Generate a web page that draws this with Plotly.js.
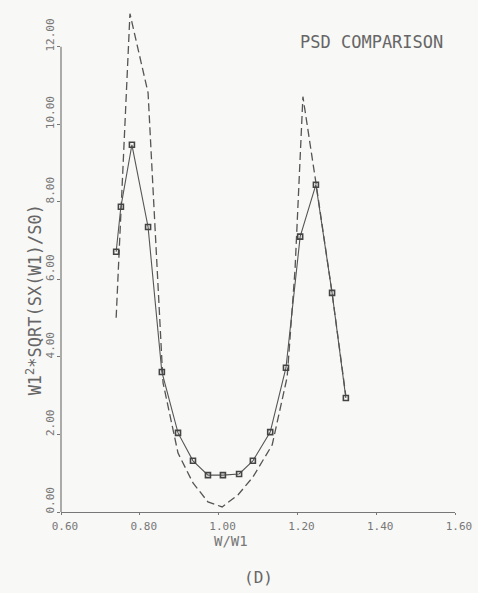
<!DOCTYPE html>
<html>
<head>
<meta charset="utf-8">
<script src="https://cdn.plot.ly/plotly-3.0.1.min.js"></script>
<style>
html,body{margin:0;padding:0;background:#f8f8f6;}
#chart{width:478px;height:593px;}
</style>
</head>
<body>
<div id="chart"></div>
<script>
// Measured (solid line with markers)
var measX = [0.740, 0.752, 0.780, 0.821, 0.856, 0.897, 0.935, 0.973, 1.011, 1.052, 1.087, 1.131, 1.171, 1.207, 1.247, 1.288, 1.323];
var measY = [6.71, 7.87, 9.47, 7.35, 3.61, 2.04, 1.32, 0.95, 0.95, 0.98, 1.32, 2.06, 3.72, 7.10, 8.44, 5.65, 2.94];
// Comparison (dashed line)
var compX = [0.740, 0.775, 0.821, 0.859, 0.897, 0.935, 0.973, 1.009, 1.049, 1.087, 1.136, 1.174, 1.194, 1.214, 1.247, 1.288, 1.323];
var compY = [5.01, 12.85, 10.81, 3.33, 1.52, 0.75, 0.26, 0.13, 0.44, 0.90, 1.73, 3.48, 6.25, 10.71, 8.49, 5.65, 2.99];

var xTickVals = [0.6, 0.8, 1.0, 1.2, 1.4, 1.6];
var xTickText = ["0.60", "0.80", "1.00", "1.20", "1.40", "1.60"];
var yTickVals = [0, 2, 4, 6, 8, 10, 12];
var yTickText = ["0.00", "2.00", "4.00", "6.00", "8.00", "10.00", "12.00"];

var ink = '#555555';
var mono = 'DejaVu Sans Mono, monospace';

var traces = [
  {x: compX, y: compY, mode: 'lines', type: 'scatter',
   line: {color: ink, width: 1.3, dash: '8px,4px'}, hoverinfo: 'skip'},
  {x: measX, y: measY, mode: 'lines+markers', type: 'scatter',
   line: {color: ink, width: 1.1},
   marker: {symbol: 'square-open', size: 5, color: '#444', line: {width: 1.6, color: '#444'}},
   hoverinfo: 'skip'}
];

var layout = {
  width: 478, height: 593,
  margin: {l: 61, r: 23, t: 4, b: 81},
  paper_bgcolor: '#f8f8f6', plot_bgcolor: '#f8f8f6',
  showlegend: false,
  font: {family: mono, color: '#666'},
  xaxis: {
    range: [0.6, 1.6], tickvals: xTickVals, ticktext: xTickText,
    showgrid: false, zeroline: false, showline: true, linecolor: '#777', linewidth: 1.2,
    ticks: 'outside', ticklen: 2, tickcolor: '#777',
    tickfont: {family: mono, size: 11, color: '#777'},
    ticklabelshift: 4, ticklabelstandoff: 2
  },
  yaxis: {
    range: [0, 13.1], tickvals: yTickVals, ticktext: yTickText,
    showgrid: false, zeroline: false, showline: false,
    ticks: 'outside', ticklen: 3, tickcolor: '#777',
    tickangle: -90,
    tickfont: {family: mono, size: 11, color: '#777'},
    ticklabelshift: -10, ticklabelstandoff: -1
  },
  shapes: [
    {type: 'line', xref: 'paper', yref: 'y', x0: 0, x1: 0, y0: 0, y1: 12,
     line: {color: '#777', width: 1.2}}
  ],
  annotations: [
    {text: 'PSD COMPARISON', xref: 'paper', yref: 'paper', x: 0.787, y: 0.926,
     xanchor: 'center', yanchor: 'middle',
     showarrow: false, font: {family: mono, size: 17, color: '#666'}},
    {text: 'W/W1', xref: 'paper', yref: 'paper', x: 0.431, y: -0.057,
     xanchor: 'center', yanchor: 'middle',
     showarrow: false, font: {family: mono, size: 14, color: '#777'}},
    {text: 'W1<sup>2</sup>*SQRT(SX(W1)/S0)', xref: 'paper', yref: 'paper', x: -0.068, y: 0.417,
     xanchor: 'center', yanchor: 'middle',
     textangle: -90, showarrow: false, font: {family: mono, size: 17, color: '#666'}},
    {text: '(D)', xref: 'paper', yref: 'paper', x: 0.5, y: -0.128,
     xanchor: 'center', yanchor: 'middle',
     showarrow: false, font: {family: mono, size: 16, color: '#666'}}
  ]
};

Plotly.newPlot('chart', traces, layout, {displayModeBar: false, staticPlot: true});
</script>
</body>
</html>
